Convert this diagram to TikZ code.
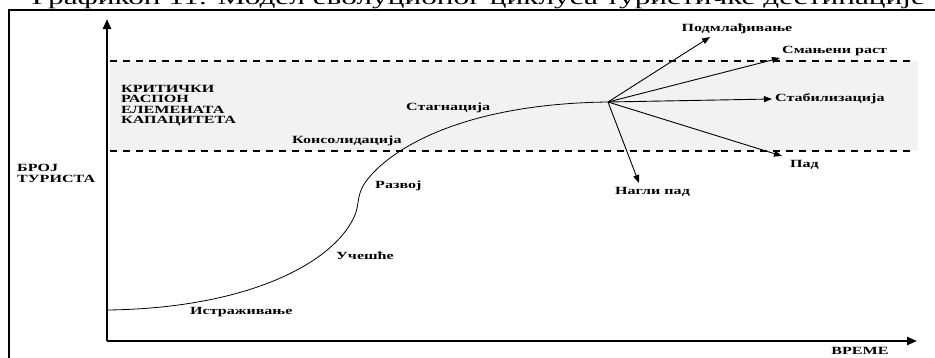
\documentclass[tikz,border=0pt]{standalone}
\usepackage{fontspec}
\usepackage{graphicx}
\setmainfont{Liberation Serif}
\usetikzlibrary{arrows.meta}

\newcommand{\wide}[1]{\scalebox{1.46}[1]{#1}}

\tikzset{
	lbl/.style={text=black, font=\bfseries\fontsize{11}{10.4}\selectfont, inner sep=0pt},
	fanarrow/.style={-{Triangle[length=8pt,width=6pt]}, line width=0.9pt},
	bandline/.style={dash pattern=on 7pt off 6pt, line width=1.4pt},
	axisline/.style={-{Triangle[length=10pt,width=8pt]}, line width=2.4pt},
}

\begin{document}
\begin{tikzpicture}[x=1pt,y=-1pt]
						\useasboundingbox (0,0) rectangle (935,357);
						\clip (0,0) rectangle (935,357);

						\node[text=black, font=\fontsize{20}{20}\selectfont, anchor=base, inner sep=0pt] (title) at (478.5,4) {\resizebox{893pt}{\height}{Графикон 11: Модел еволуционог циклуса туристичке дестинације}};
						\draw[line width=2pt] (9,365) -- (9,9.5) -- (940,9.5);

						\fill[gray!10] (110,61) rectangle (918,151);
						\draw[bandline] (110,61) -- (916,61);
						\draw[bandline] (110,151) -- (916,151);

						\coordinate (o) at (107,341);
						\coordinate (y_end) at (107,19);
						\coordinate (x_end) at (917,341);
						\draw[axisline] (o) -- (y_end);
						\draw[axisline] (o) -- (x_end);

						\coordinate (c_start) at (108,310);
						\coordinate (c_kink) at (355,215);
						\coordinate (c_up) at (363,186);
						\coordinate (fan) at (608,102);
						\draw[line width=0.8pt] (c_start) .. controls (250,308) and (335,262) .. (c_kink)
							.. controls (359,205) and (357,197) .. (c_up)
							.. controls (378,160) and (445,104) .. (fan);

						\node[lbl, anchor=west, align=left] (l_crit) at (121,105.5) {\wide{КРИТИЧКИ}\\\wide{РАСПОН}\\\wide{ЕЛЕМЕНАТА}\\\wide{КАПАЦИТЕТА}};
						\node[lbl, anchor=west, align=left] (l_broj) at (17,173.5) {\wide{БРОЈ}\\\wide{ТУРИСТА}};
						\node[lbl] (l_vreme) at (860,351) {\wide{ВРЕМЕ}};

						\node[lbl, anchor=west] (l_istr) at (190,312) {\wide{Истраживање}};
						\node[lbl, anchor=west] (l_uc) at (336,256) {\wide{Учешће}};
						\node[lbl, anchor=west] (l_raz) at (375,186) {\wide{Развој}};
						\node[lbl, anchor=west] (l_kons) at (292,141) {\wide{Консолидација}};
						\node[lbl, anchor=west] (l_stag) at (406,108) {\wide{Стагнација}};

						\node[lbl] (l_podm) at (737,29) {\wide{Подмлађивање}};
						\node[lbl, anchor=west] (l_smr) at (782,51) {\wide{Смањени раст}};
						\node[lbl, anchor=west] (l_stab) at (775,99) {\wide{Стабилизација}};
						\node[lbl, anchor=west] (l_pad) at (790,165) {\wide{Пад}};
						\node[lbl, anchor=west] (l_nagli) at (615,192) {\wide{Нагли пад}};

						\coordinate (t_podm) at (710,37);
						\coordinate (t_smr) at (780,58);
						\coordinate (t_stab) at (772,99);
						\coordinate (t_pad) at (782,156);
						\coordinate (t_nagli) at (639,183);
						\draw[fanarrow] (fan) -- (t_podm);
						\draw[fanarrow] (fan) -- (t_smr);
						\draw[fanarrow] (fan) -- (t_stab);
						\draw[fanarrow] (fan) -- (t_pad);
						\draw[fanarrow] (fan) -- (t_nagli);
					\end{tikzpicture}
\end{document}
